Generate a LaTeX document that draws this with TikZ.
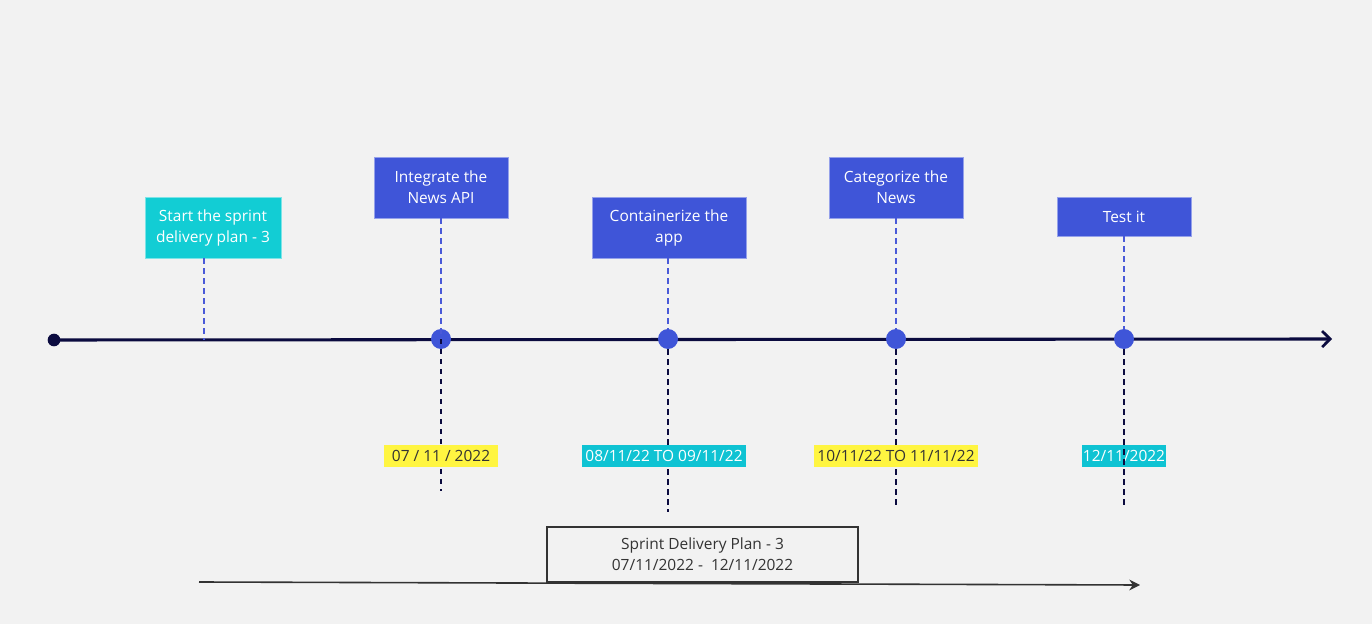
\documentclass[tikz,border=0pt]{standalone}
\usepackage{fontspec}
\setmainfont{Open Sans}
\usetikzlibrary{arrows.meta}
\definecolor{bg}{HTML}{F2F2F2}
\definecolor{navy}{HTML}{0B0B3F}
\definecolor{myblue}{HTML}{3F55D8}
\definecolor{mycyan}{HTML}{12CDD4}
\definecolor{labcyan}{HTML}{0FC3D3}
\definecolor{myyellow}{HTML}{FFF541}
\definecolor{txtgray}{HTML}{333333}
\definecolor{dashblue}{HTML}{4A5AD8}
\begin{document}
\begin{tikzpicture}[x=0.75pt,y=-0.75pt,
  evbox/.style={fill=myblue, draw=myblue!55!white, line width=0.6pt, text=white, align=center, inner sep=0pt, minimum height=45.75pt, font=\fontsize{11.6}{15.75}\selectfont},
  datelab/.style={inner sep=0pt, minimum height=16.5pt, font=\fontsize{11.6}{14}\selectfont},
  ydate/.style={datelab, fill=myyellow, text=txtgray},
  cdate/.style={datelab, fill=labcyan, text=white},
  dot/.style={circle, fill=myblue, inner sep=0pt, minimum size=15pt},
  updash/.style={draw=dashblue, line width=0.8pt, dash pattern=on 4pt off 3.5pt},
  downdash/.style={draw=navy, line width=1.1pt, dash pattern=on 4pt off 3.5pt},
  mainline/.style={draw=navy, line width=2.3pt},
]
\fill[bg] (0,0) rectangle (1372,624);
\useasboundingbox (0,0) rectangle (1372,624);

% main timeline
\node[circle, fill=navy, inner sep=0pt, minimum size=9.5pt] (start) at (54,340) {};
\coordinate (tend) at (1332,339);
\coordinate (t0) at (204,340);
\draw[mainline, -{Straight Barb[length=6pt, width=12pt, line width=2pt]}] (start.center) -- (tend);

% dots
\node[dot] (d1) at (441,339) {};
\node[dot] (d2) at (668,339) {};
\node[dot] (d3) at (896,339) {};
\node[dot] (d4) at (1124,339) {};

% bottom end coordinates for down dashes
\coordinate (e1) at (441,491);
\coordinate (e2) at (668,512);
\coordinate (e3) at (896,509);
\coordinate (e4) at (1124,509);

\draw[downdash] (d1.center) -- (e1);
\draw[downdash] (d2.south) -- (e2);
\draw[downdash] (d3.south) -- (e3);

% event boxes
\node[evbox, fill=mycyan, draw=mycyan!55!white, minimum width=102pt] (s1) at (213,227.5) {Start the sprint\\delivery plan - 3};
\node[evbox, minimum width=100.5pt] (n1) at (441,187.5) {Integrate the\\News API};
\node[evbox, minimum width=115.5pt] (n2) at (669,227.5) {Containerize the\\app};
\node[evbox, minimum width=100.5pt] (n3) at (896,187.5) {Categorize the\\News};
\node[evbox, minimum width=100.5pt, minimum height=29.25pt] (n4) at (1124,216.5) {Test it};

% up dashes
\draw[updash] (s1.south -| t0) -- (t0);
\draw[updash] (n1.south) -- (d1.center);
\draw[updash] (n2.south -| d2) -- (d2.north);
\draw[updash] (n3.south) -- (d3.north);
\draw[updash] (n4.south) -- (d4.north);

% date labels
\node[ydate, minimum width=85.5pt] (l1) at (441,456) {07 / 11 / 2022};
\node[cdate, minimum width=123pt] (l2) at (664,456) {08/11/22 TO 09/11/22};
\node[ydate, minimum width=123pt] (l3) at (896,456) {10/11/22 TO 11/11/22};
\node[cdate, minimum width=63pt] (l4) at (1124,456) {12/11/2022};
\draw[downdash] (d4.south) -- (e4);

% bottom summary
\coordinate (b0) at (199,582);
\coordinate (b1) at (1140,585);
\draw[draw=txtgray, line width=1.2pt, -{Stealth[length=8pt, width=8pt]}] (b0) -- (b1);
\node[draw=txtgray, fill=bg, line width=0.9pt, minimum width=233.25pt, minimum height=41.25pt, inner sep=0pt, align=center, text=txtgray, font=\fontsize{11.6}{16}\selectfont] (sum) at (702.5,554.5) {Sprint Delivery Plan - 3\\07/11/2022 -\ \ 12/11/2022};
\end{tikzpicture}
\end{document}
